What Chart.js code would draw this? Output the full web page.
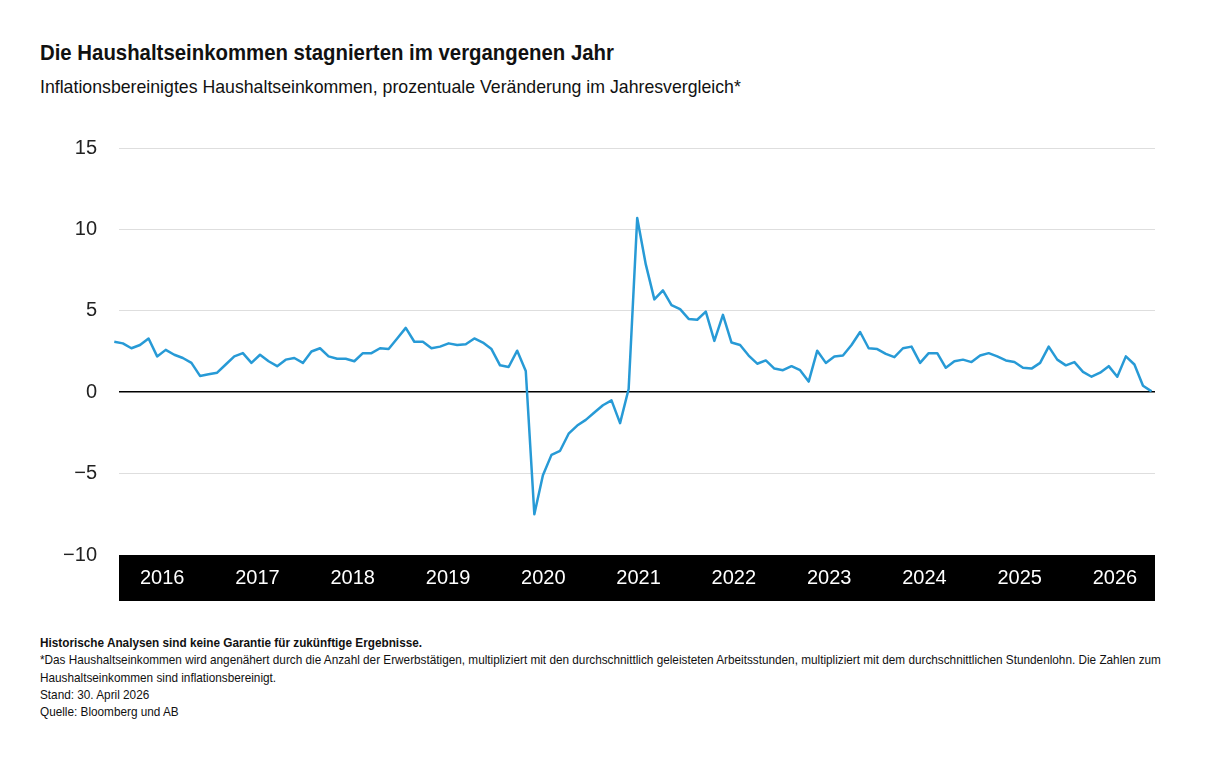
<!DOCTYPE html>
<html lang="de">
<head>
<meta charset="utf-8">
<title>Haushaltseinkommen</title>
<script src="https://cdn.jsdelivr.net/npm/chart.js@4/dist/chart.umd.min.js"></script>
<style>
  body {
    margin: 0;
    width: 1214px;
    height: 779px;
    background: #fff;
    position: relative;
    font-family: 'Liberation Sans', Arial, sans-serif;
    color: #111;
    overflow: hidden;
  }
  #title {
    position: absolute;
    left: 40px;
    top: 40px;
    font-weight: bold;
    font-size: 22px;
    line-height: 26px;
    white-space: nowrap;
    transform: scaleX(0.926);
    transform-origin: left top;
  }
  #sub {
    position: absolute;
    left: 40px;
    top: 76px;
    font-size: 19px;
    line-height: 22px;
    white-space: nowrap;
    transform: scaleX(0.932);
    transform-origin: left top;
  }
  #chartBox {
    position: absolute;
    left: 40px;
    top: 114px;
    width: 1115px;
    height: 487px;
  }
  #notes {
    position: absolute;
    left: 40px;
    top: 634px;
    width: 1250px;
    font-size: 13px;
    line-height: 17.3px;
    transform: scaleX(0.905);
    transform-origin: left top;
  }
  #notes b { font-weight: bold; }
</style>
</head>
<body>
<div id="title">Die Haushaltseinkommen stagnierten im vergangenen Jahr</div>
<div id="sub">Inflationsbereinigtes Haushaltseinkommen, prozentuale Veränderung im Jahresvergleich*</div>
<div id="chartBox"><canvas id="incomeChart"></canvas></div>
<div id="notes">
  <b>Historische Analysen sind keine Garantie für zukünftige Ergebnisse.</b><br>
  *Das Haushaltseinkommen wird angenähert durch die Anzahl der Erwerbstätigen, multipliziert mit den durchschnittlich geleisteten Arbeitsstunden, multipliziert mit dem durchschnittlichen Stundenlohn. Die Zahlen zum Haushaltseinkommen sind inflationsbereinigt.<br>
  Stand: 30. April 2026<br>
  Quelle: Bloomberg und AB
</div>

<script>
// year labels shown in the black band under the chart
var yearLabels = ['2016', '2017', '2018', '2019', '2020', '2021', '2022', '2023', '2024', '2025', '2026'];

// y axis ticks
var yTicks = [-10, -5, 0, 5, 10, 15];

var incomeChange = [
    3.1, 3.0, 2.7, 2.9, 3.3, 2.2, 2.6, 2.3, 2.1, 1.8,
    1.0, 1.1, 1.2, 1.7, 2.2, 2.4, 1.8, 2.3, 1.9, 1.6,
    2.0, 2.1, 1.8, 2.5, 2.7, 2.2, 2.05, 2.05, 1.9, 2.4,
    2.4, 2.7, 2.65, 3.3, 3.95, 3.1, 3.1, 2.7, 2.8, 3.0,
    2.9, 2.95, 3.3, 3.05, 2.65, 1.65, 1.55, 2.55, 1.3, -7.5,
    -5.1, -3.85, -3.6, -2.55, -2.05, -1.7, -1.25, -0.8, -0.5, -1.9,
    0.2, 10.7, 7.85, 5.7, 6.25, 5.35, 5.1, 4.5, 4.45, 4.95,
    3.15, 4.75, 3.05, 2.9, 2.25, 1.75, 1.95, 1.45, 1.35, 1.6,
    1.35, 0.65, 2.55, 1.8, 2.2, 2.25, 2.9, 3.7, 2.7, 2.65,
    2.35, 2.15, 2.7, 2.8, 1.8, 2.4, 2.4, 1.5, 1.9, 2.0,
    1.85, 2.25, 2.4, 2.2, 1.95, 1.85, 1.5, 1.45, 1.8, 2.8,
    2.0, 1.65, 1.85, 1.25, 0.95, 1.2, 1.6, 0.95, 2.2, 1.7,
    0.4, 0.05
];

var points = incomeChange.map(function(v, i) {
    return { x: i, y: v };
});

var ctx = document.getElementById('incomeChart');
new Chart(ctx, {
    type: 'line',
    data: {
        datasets: [{
            label: 'Haushaltseinkommen',
            data: points,
            xAxisID: 'x',
            yAxisID: 'y',
            borderColor: '#279ad6',
            borderWidth: 2.5,
            borderJoinStyle: 'round',
            pointRadius: 0,
            tension: 0,
            fill: false,
            clip: false
        }]
    },
    options: {
        responsive: true,
        maintainAspectRatio: false,
        animation: false,
        layout: {
            padding: { top: 0, right: 0, bottom: 0, left: 0 }
        },
        plugins: {
            legend: { display: false },
            tooltip: { enabled: false }
        },
        scales: {
            x: {
                type: 'linear',
                display: false,
                min: 0.55,
                max: 121.4
            },
            years: {
                type: 'linear',
                position: 'bottom',
                min: -0.453,
                max: 10.42,
                backgroundColor: '#000',
                afterBuildTicks: function(scale) {
                    scale.ticks = yearLabels.map(function(y, i) { return { value: i }; });
                },
                grid: { display: false, drawTicks: false },
                border: { display: false },
                ticks: {
                    color: '#fff',
                    font: { family: 'Liberation Sans', size: 20 },
                    padding: 11,
                    maxRotation: 0,
                    autoSkip: false,
                    callback: function(value) {
                        return yearLabels[value];
                    }
                },
                afterFit: function(scale) {
                    scale.height = 46;
                }
            },
            y: {
                min: yTicks[0],
                max: yTicks[yTicks.length - 1],
                afterBuildTicks: function(scale) {
                    scale.ticks = yTicks.map(function(v) { return { value: v }; });
                },
                grid: {
                    drawTicks: false,
                    color: function(c) {
                        if (c.tick.value === 0) return '#000';
                        if (c.tick.value === -10) return 'rgba(0,0,0,0)';
                        return '#dedede';
                    },
                    lineWidth: function(c) {
                        return c.tick.value === 0 ? 1.5 : 1;
                    }
                },
                border: { display: false },
                ticks: {
                    color: '#222',
                    padding: 22,
                    font: { family: 'Liberation Sans', size: 20 },
                    callback: function(value) {
                        return String(value).replace('-', '\u2212');
                    }
                },
                afterFit: function(scale) {
                    scale.width = 79;
                }
            }
        }
    }
});
</script>
</body>
</html>
